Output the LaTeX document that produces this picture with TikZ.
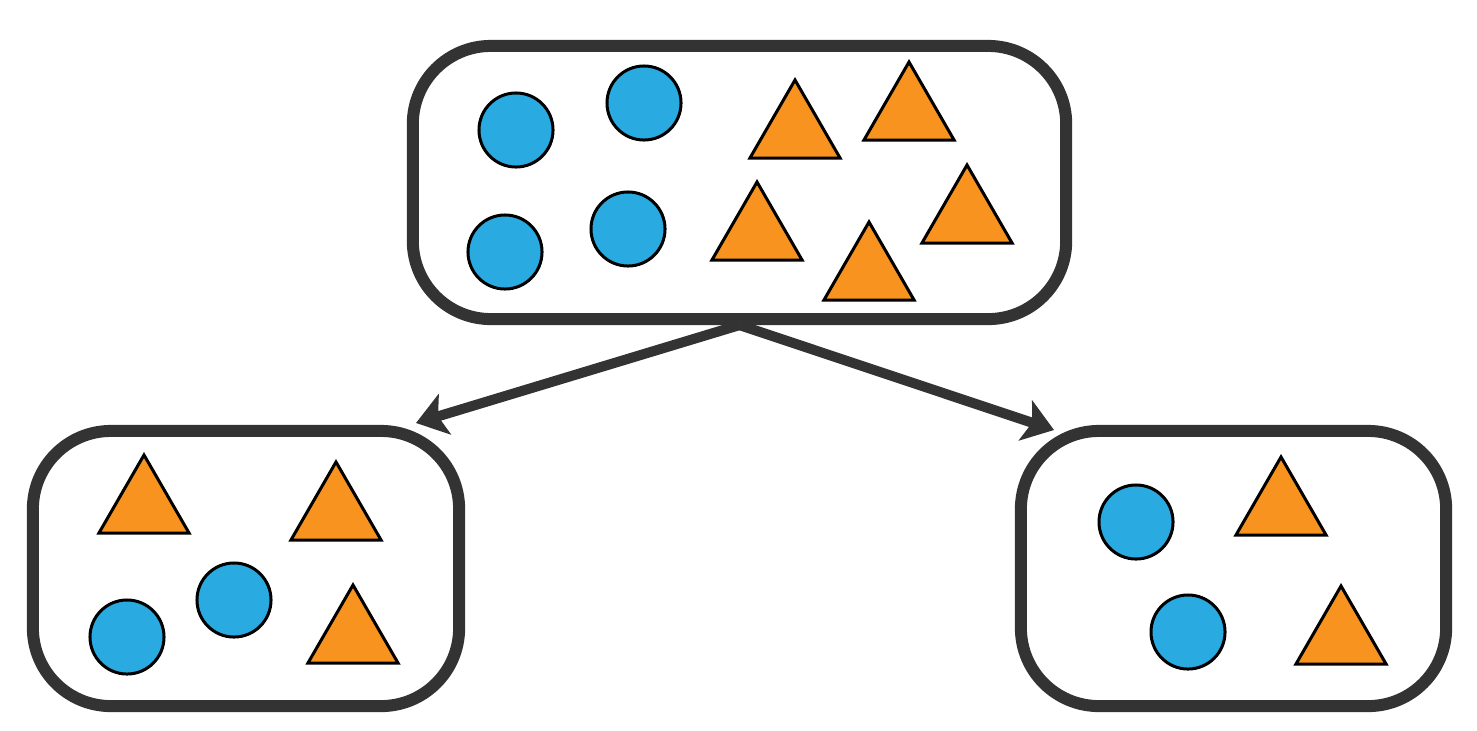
\documentclass[tikz,border=0pt]{standalone}
\usepackage{tikz}
\usetikzlibrary{shapes.geometric, arrows.meta}
\definecolor{ballblue}{HTML}{29ABE2}
\definecolor{conorange}{HTML}{F7931E}
\definecolor{framegray}{HTML}{333333}
\tikzset{
  ball/.style={circle, draw=black, line width=0.03cm, fill=ballblue, minimum size=0.74cm, inner sep=0},
  cone/.style={regular polygon, regular polygon sides=3, draw=black, line width=0.03cm, fill=conorange, minimum size=1.04cm, inner sep=0, outer sep=0},
  bag/.style={draw=framegray, line width=0.12cm, rounded corners=0.78cm, inner sep=0, fill=white}
}
\begin{document}
\begin{tikzpicture}[x=0.01cm, y=-0.01cm]
        \useasboundingbox (0,0) rectangle (1477,730);
        \begin{scope}[auto, every node/.style={bag}]
                \node[minimum width=6.53cm, minimum height=2.73cm] (Top) at (739.5,182.5) {};
                \node[minimum width=4.26cm, minimum height=2.75cm] (Left) at (246,568.5) {};
                \node[minimum width=4.25cm, minimum height=2.75cm] (Right) at (1233.5,568.5) {};
        \end{scope}
        % parent set
        \node[ball] (Tb1) at (516,130) {};
        \node[ball] (Tb2) at (644,103) {};
        \node[ball] (Tb3) at (505,252) {};
        \node[ball] (Tb4) at (628,229) {};
        \node[cone] (Tc1) at (795,132) {};
        \node[cone] (Tc2) at (909,114) {};
        \node[cone] (Tc3) at (757,234) {};
        \node[cone] (Tc4) at (869,274) {};
        \node[cone] (Tc5) at (967,217) {};
        % left subset
        \node[cone] (Lc1) at (144,507) {};
        \node[cone] (Lc2) at (336,514) {};
        \node[cone] (Lc3) at (353,637) {};
        \node[ball] (Lb1) at (127,637) {};
        \node[ball] (Lb2) at (234,600) {};
        % right subset
        \node[ball] (Rb1) at (1136,522) {};
        \node[ball] (Rb2) at (1188,632) {};
        \node[cone] (Rc1) at (1281,509) {};
        \node[cone] (Rc2) at (1341,638) {};
        \coordinate (Lt) at (416,423);
        \coordinate (Rt) at (1054,430);
        \begin{scope}[framegray, line width=0.1cm, >={Stealth[length=0.3cm, width=0.42cm, inset=0.07cm]}]
                \draw[->] (Top.south) -- (Lt);
                \draw[->] (Top.south) -- (Rt);
        \end{scope}
\end{tikzpicture}
\end{document}
